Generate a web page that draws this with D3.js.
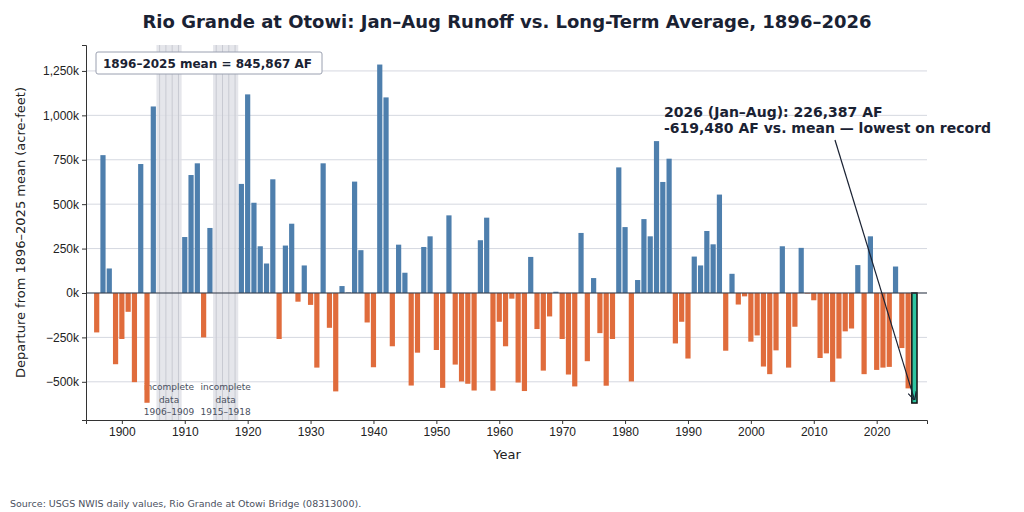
<!DOCTYPE html>
<html><head><meta charset="utf-8">
<script src="https://cdn.jsdelivr.net/npm/d3@7"></script>
<style>body{margin:0;background:#fff;font-family:"DejaVu Sans",sans-serif}</style>
</head><body><svg id="c" width="1024" height="512"></svg>
<script>
const startYear = 1896;
const departures = [-222,776,138,-401,-259,-106,-502,726,-618,1050,null,null,null,null,315,664,730,-250,366,null,null,null,null,614,1118,508,263,166,640,-259,267,390,-49,155,-67,-420,730,-196,-554,39,3,627,241,-166,-418,1286,1101,-300,272,114,-521,-336,259,319,-321,-534,437,-403,-498,-511,-549,297,424,-550,-162,-300,-32,-504,-552,203,-203,-437,-132,7,-259,-459,-526,338,-384,84,-226,-522,-259,707,371,-498,73,416,319,855,625,756,-284,-162,-369,205,155,349,274,554,-325,108,-65,-19,-274,-239,-414,-457,-323,263,-420,-190,254,-3,-41,-366,-340,-500,-369,-216,-200,157,-457,319,-433,-420,-416,149,-310,-537,-619.48];
const data = departures.map((v,i)=>({year:startYear+i,v:v===null?null:v*1000}));
const gaps = [[1906,1909],[1915,1918]];
const yTicks = [-500000,-250000,0,250000,500000,750000,1000000,1250000];
const xTicks = [1900,1910,1920,1930,1940,1950,1960,1970,1980,1990,2000,2010,2020];

const svg = d3.select("#c");
const L=86,R=927,T=45,B=420;
const x = d3.scaleLinear().domain([1894.3,2028]).range([L,R]);
const y = d3.scaleLinear().domain([-715000,1396000]).range([B,T]);
const bw = 5.2;

svg.append("text").attr("x",507).attr("y",28).attr("text-anchor","middle").attr("font-size",18).attr("font-weight","bold").attr("fill","#1a2233").text("Rio Grande at Otowi: Jan–Aug Runoff vs. Long-Term Average, 1896–2026");

// grid
svg.append("g").selectAll("line").data(yTicks).join("line").attr("x1",L).attr("x2",R).attr("y1",d=>y(d)).attr("y2",d=>y(d)).attr("stroke","#d5d8e0").attr("stroke-width",1);

// gaps
gaps.forEach(g=>{
  svg.append("rect").attr("x",x(g[0]-0.5)).attr("width",x(g[1]+0.5)-x(g[0]-0.5)).attr("y",T).attr("height",B-T).attr("fill","#dfe0e6").attr("opacity",0.8);
  d3.range(g[0],g[1]+1).forEach(yr=>svg.append("line").attr("x1",x(yr)).attr("x2",x(yr)).attr("y1",T).attr("y2",B).attr("stroke","#c8cad2").attr("stroke-width",1));
  const cx = x((g[0]+g[1])/2);
  ["incomplete","data",g[0]+"–"+g[1]].forEach((t,i)=>svg.append("text").attr("x",cx).attr("y",390+i*12.5).attr("text-anchor","middle").attr("font-size",9).attr("fill","#4a5060").text(t));
});

// bars
svg.append("g").selectAll("rect").data(data.filter(d=>d.v!==null)).join("rect")
 .attr("x",d=>x(d.year)-bw/2).attr("width",bw)
 .attr("y",d=>y(Math.max(0,d.v))).attr("height",d=>Math.abs(y(d.v)-y(0)))
 .attr("fill",d=>d.year===2026?"#2ec4a0":(d.v>=0?"#4e7fad":"#e06c3c"))
 .attr("stroke",d=>d.year===2026?"#111":"none").attr("stroke-width",1.5);

svg.append("line").attr("x1",L).attr("x2",R).attr("y1",y(0)).attr("y2",y(0)).attr("stroke","#333a48").attr("stroke-width",1.2);

// axes
const fmt = d=> d===0?"0k":(d3.format(",")(d/1000)+"k");
const ya = svg.append("g").attr("transform",`translate(${L},0)`).call(d3.axisLeft(y).tickValues(yTicks).tickFormat(d=>d===0?"0k":(d<0?"−":"")+d3.format(",")(Math.abs(d)/1000)+"k").tickSize(4));
ya.selectAll("text").attr("font-size",12).attr("fill","#222");
const xa = svg.append("g").attr("transform",`translate(0,${B})`).call(d3.axisBottom(x).tickValues(xTicks).tickFormat(d3.format("d")).tickSize(4));
xa.selectAll("text").attr("font-size",12).attr("fill","#222");
[ya,xa].forEach(a=>{a.select(".domain").attr("stroke","#333");a.selectAll(".tick line").attr("stroke","#333");});

svg.append("text").attr("x",507).attr("y",459).attr("text-anchor","middle").attr("font-size",13).attr("fill","#222").text("Year");
svg.append("text").attr("transform",`translate(25,${(T+B)/2}) rotate(-90)`).attr("text-anchor","middle").attr("font-size",13).attr("fill","#222").text("Departure from 1896–2025 mean (acre-feet)");

// mean box
svg.append("rect").attr("x",96).attr("y",52).attr("width",226).attr("height",22).attr("fill","#fff").attr("stroke","#9aa0b0").attr("rx",2);
svg.append("text").attr("x",103).attr("y",67.5).attr("font-size",12).attr("font-weight","bold").attr("fill","#1a2233").text("1896–2025 mean = 845,867 AF");

// annotation
svg.append("defs").append("marker").attr("id","ah").attr("viewBox","0 0 10 10").attr("refX",9).attr("refY",5).attr("markerWidth",7).attr("markerHeight",7).attr("orient","auto")
 .append("path").attr("d","M0,0 L10,5 L0,10").attr("fill","none").attr("stroke","#1a2233").attr("stroke-width",1.5);
svg.append("line").attr("x1",835).attr("y1",140).attr("x2",x(2026)).attr("y2",y(-600000)).attr("stroke","#1a2233").attr("stroke-width",1.2).attr("marker-end","url(#ah)");
svg.append("text").attr("x",664).attr("y",117).attr("font-size",14).attr("font-weight","bold").attr("fill","#1a2233").text("2026 (Jan–Aug): 226,387 AF");
svg.append("text").attr("x",664).attr("y",133).attr("font-size",14).attr("font-weight","bold").attr("fill","#1a2233").text("-619,480 AF vs. mean — lowest on record");

svg.append("text").attr("x",10).attr("y",507).attr("font-size",9.5).attr("fill","#4a5060").text("Source: USGS NWIS daily values, Rio Grande at Otowi Bridge (08313000).");
</script></body></html>
